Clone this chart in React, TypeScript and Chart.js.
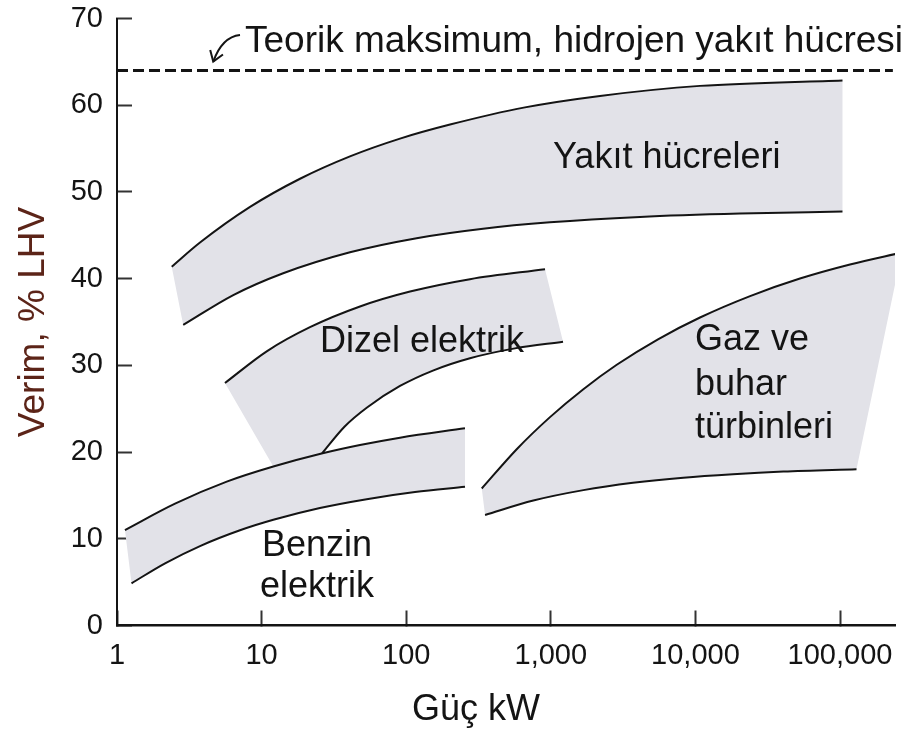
import React, { useEffect, useRef } from 'react';
import { Chart, registerables } from 'chart.js';

Chart.register(...registerables);
Chart.defaults.font.family = '"Liberation Sans", Arial, Helvetica, sans-serif';

// ---- axis ticks ----
const xTickValues = [1, 10, 100, 1000, 10000, 100000];
const xTickLabels = ['1', '10', '100', '1,000', '10,000', '100,000'];
const yTickValues = [0, 10, 20, 30, 40, 50, 60, 70];

// ---- Yakıt hücreleri (fuel cells) ----
const fuelUpperX = [2.39, 3.75, 8.32, 18.44, 40.85, 90.6, 201, 663, 2188, 10760, 104000];
const fuelUpperY = [41.38, 44.16, 48.27, 51.52, 54.1, 56.15, 57.77, 59.75, 61.07, 62.23, 62.86];
const fuelLowerX = [2.87, 6.37, 14.1, 40.85, 118, 340, 987, 4140, 20300, 104000];
const fuelLowerY = [34.66, 38.1, 40.62, 43.04, 44.67, 45.76, 46.49, 47.11, 47.5, 47.73];

// ---- Dizel elektrik ----
const dieselUpperX = [5.58, 10.85, 21.6, 47.9, 106.3, 276, 912];
const dieselUpperY = [27.97, 31.62, 34.4, 36.79, 38.51, 39.94, 41.09];
const dieselLowerX = [26.2, 37.4, 53.6, 90.6, 153, 276, 565, 1215];
const dieselLowerY = [19.85, 22.92, 25.14, 27.62, 29.4, 30.82, 31.96, 32.72];
const dieselEdgeX = [12.05];
const dieselEdgeY = [18.33];

// ---- Benzin elektrik ----
const benzinUpperX = [1.135, 2.52, 5.74, 12.05, 26.0, 47.9, 90.6, 255];
const benzinUpperY = [11.01, 14.05, 16.59, 18.33, 19.83, 20.81, 21.66, 22.75];
const benzinLowerX = [1.26, 2.15, 3.75, 7.09, 12.05, 25.3, 53.3, 115, 255];
const benzinLowerY = [4.87, 7.17, 9.16, 10.98, 12.19, 13.55, 14.57, 15.39, 16.0];

// ---- Gaz ve buhar türbinleri ----
const gasUpperX = [333, 581, 987, 1679, 2857, 5510, 10760, 23880, 52840, 117200, 267000];
const gasUpperY = [15.8, 20.33, 24.03, 27.25, 30.07, 33.01, 35.52, 37.99, 40.01, 41.63, 43.0];
const gasLowerX = [351, 757, 1680, 3700, 8250, 18200, 40600, 130000];
const gasLowerY = [12.75, 14.41, 15.61, 16.45, 17.05, 17.45, 17.75, 18.02];

// ---- theoretical maximum ----
const theoryX = [1, 232000];
const theoryY = [64, 64];

// ---- annotations (data coordinates) ----
const regionLabels = [
  { text: 'Teorik maksimum, hidrojen yakıt hücresi', x: 7.68, y: 66.15, big: true },
  { text: 'Yakıt hücreleri', x: 1036, y: 52.77 },
  { text: 'Dizel elektrik', x: 25.3, y: 31.55 },
  { text: 'Gaz ve', x: 9930, y: 31.78 },
  { text: 'buhar', x: 9930, y: 26.59 },
  { text: 'türbinleri', x: 9930, y: 21.63 },
  { text: 'Benzin', x: 10.07, y: 8.07 },
  { text: 'elektrik', x: 9.75, y: 3.29 },
];
const arrowX = [7.09, 5.33, 4.63];
const arrowY = [68.1, 67.88, 65.03];
const xTitleText = 'Güç kW';
const xTitleAnchor = 304;
const yTitleText = 'Verim, % LHV';

type Pt = { x: number; y: number };
const toPts = (xs: number[], ys: number[]): Pt[] => xs.map((x, i) => ({ x, y: ys[i] }));
const bandShape = (ux: number[], uy: number[], lx: number[], ly: number[], ex: number[] = [], ey: number[] = []) => [
  ...toPts(ux, uy),
  ...toPts(lx, ly).reverse(),
  ...toPts(ex, ey),
];

const FILL = '#e2e2e8';
const INK = '#141414';
const FONT = '"Liberation Sans", Arial, Helvetica, sans-serif';

const curve = (xs: number[], ys: number[]) => ({
  data: toPts(xs, ys),
  borderColor: INK,
  borderWidth: 2,
  pointRadius: 0,
  fill: false,
  cubicInterpolationMode: 'monotone',
  order: 1,
});
const shape = (pts: Pt[]) => ({
  data: pts,
  borderColor: 'rgba(0,0,0,0)',
  borderWidth: 0,
  backgroundColor: FILL,
  pointRadius: 0,
  fill: 'shape',
  tension: 0,
  order: 2,
});

const annotationPlugin = {
  id: 'annotations',
  afterDatasetsDraw(chart: any) {
    const { ctx, chartArea } = chart;
    const xs = chart.scales.x;
    const ys = chart.scales.y;
    ctx.save();
    ctx.fillStyle = INK;
    ctx.textAlign = 'left';
    ctx.textBaseline = 'alphabetic';
    for (const l of regionLabels) {
      ctx.font = `${l.big ? 37 : 36}px ${FONT}`;
      ctx.fillText(l.text, xs.getPixelForValue(l.x), ys.getPixelForValue(l.y));
    }
    // curved arrow
    const p = arrowX.map((v, i) => ({ x: xs.getPixelForValue(v), y: ys.getPixelForValue(arrowY[i]) }));
    ctx.strokeStyle = INK;
    ctx.lineWidth = 2;
    ctx.beginPath();
    ctx.moveTo(p[0].x, p[0].y);
    ctx.quadraticCurveTo(p[1].x, p[1].y, p[2].x, p[2].y);
    ctx.stroke();
    const ang = Math.atan2(p[2].y - p[1].y, p[2].x - p[1].x);
    const hl = 12;
    ctx.beginPath();
    ctx.moveTo(p[2].x - hl * Math.cos(ang - 0.6), p[2].y - hl * Math.sin(ang - 0.6));
    ctx.lineTo(p[2].x, p[2].y);
    ctx.lineTo(p[2].x - hl * Math.cos(ang + 0.6), p[2].y - hl * Math.sin(ang + 0.6));
    ctx.stroke();
    // x axis title
    ctx.font = `36px ${FONT}`;
    ctx.textAlign = 'center';
    ctx.fillText(xTitleText, xs.getPixelForValue(xTitleAnchor), chartArea.bottom + 94.5);
    ctx.restore();
  },
};

export default function App() {
  const ref = useRef<HTMLCanvasElement | null>(null);
  useEffect(() => {
    if (!ref.current) return;
    const chart = new Chart(ref.current, {
      type: 'line',
      data: {
        datasets: [
          {
            data: toPts(theoryX, theoryY),
            borderColor: INK,
            borderWidth: 3,
            borderDash: [11, 5],
            pointRadius: 0,
            fill: false,
            order: 0,
          },
          curve(fuelUpperX, fuelUpperY),
          curve(fuelLowerX, fuelLowerY),
          curve(dieselUpperX, dieselUpperY),
          curve(dieselLowerX, dieselLowerY),
          curve(benzinUpperX, benzinUpperY),
          curve(benzinLowerX, benzinLowerY),
          curve(gasUpperX, gasUpperY),
          curve(gasLowerX, gasLowerY),
          shape(bandShape(fuelUpperX, fuelUpperY, fuelLowerX, fuelLowerY)),
          shape(bandShape(dieselUpperX, dieselUpperY, dieselLowerX, dieselLowerY, dieselEdgeX, dieselEdgeY)),
          shape(bandShape(benzinUpperX, benzinUpperY, benzinLowerX, benzinLowerY)),
          shape(bandShape(gasUpperX, gasUpperY, gasLowerX, gasLowerY)),
        ] as any,
      },
      options: {
        animation: false,
        responsive: false,
        devicePixelRatio: 1,
        events: [],
        layout: { padding: { top: 18.5, right: 27, bottom: 0, left: 0 } },
        plugins: {
          legend: { display: false },
          tooltip: { enabled: false },
          title: { display: false },
        },
        scales: {
          x: {
            type: 'logarithmic',
            min: 1,
            max: 240000,
            afterBuildTicks: (s: any) => {
              s.ticks = xTickValues.map((v) => ({ value: v }));
            },
            afterFit: (s: any) => {
              s.height = 105.5;
              s.paddingLeft = 0;
              s.paddingRight = 0;
            },
            ticks: {
              autoSkip: false,
              maxRotation: 0,
              minRotation: 0,
              padding: 28,
              color: INK,
              font: { size: 29 },
              callback: (_v: any, i: number) => xTickLabels[i] ?? '',
            },
            grid: {
              display: true,
              drawOnChartArea: false,
              drawTicks: true,
              tickLength: -15,
              tickColor: '#333',
              tickWidth: 2,
            },
            border: { display: true, color: INK, width: 2.5 },
          },
          y: {
            type: 'linear',
            min: 0,
            max: 70,
            afterBuildTicks: (s: any) => {
              s.ticks = yTickValues.map((v) => ({ value: v }));
            },
            afterFit: (s: any) => {
              s.width = 117;
              s.paddingTop = 0;
              s.paddingBottom = 0;
            },
            ticks: { padding: 29, color: INK, font: { size: 29 } },
            grid: {
              display: true,
              drawOnChartArea: false,
              drawTicks: true,
              tickLength: -15,
              tickColor: '#333',
              tickWidth: 2,
            },
            border: { display: true, color: INK, width: 2 },
            title: {
              display: true,
              text: yTitleText,
              color: '#5c2418',
              font: { size: 37 },
              padding: { top: 12, bottom: 0 },
            },
          },
        },
      } as any,
      plugins: [annotationPlugin],
    });
    return () => chart.destroy();
  }, []);
  return (
    <div style={{ position: 'fixed', left: 0, top: 0, width: 922, height: 731, background: '#fff' }}>
      <canvas ref={ref} width={922} height={731} style={{ display: 'block' }} />
    </div>
  );
}
